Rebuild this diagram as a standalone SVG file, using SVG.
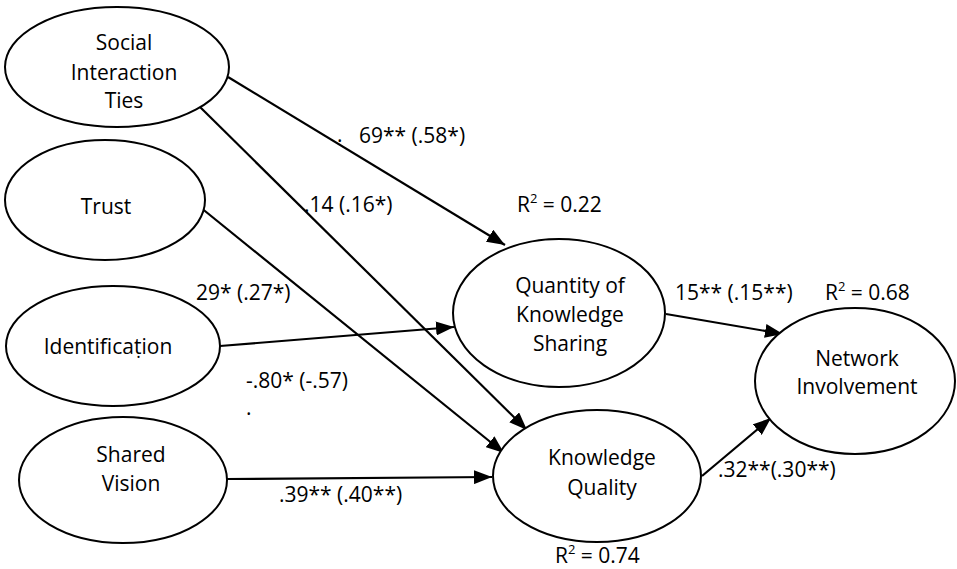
<svg xmlns="http://www.w3.org/2000/svg" width="957" height="569" viewBox="0 0 957 569">
<defs>
<style>
.n{fill:#fff;stroke:#000;stroke-width:2}
.t{font-family:"Open Sans","Noto Sans","Liberation Sans",sans-serif;font-size:21px;fill:#000;text-anchor:middle}
.l{font-family:"Open Sans","Noto Sans","Liberation Sans",sans-serif;font-size:21px;fill:#000}
.c{stroke:#000;stroke-width:2.2;fill:none;marker-end:url(#ah)}
.sup{font-size:13px}
</style>
<marker id="ah" viewBox="0 0 18 14" refX="18" refY="7" markerWidth="18" markerHeight="14" markerUnits="userSpaceOnUse" orient="auto">
<path d="M0,0 L18,7 L0,14 Z" fill="#000"/>
</marker>
</defs>
<rect width="957" height="569" fill="#fff"/>
<g id="connectors">
<line class="c" x1="228" y1="77" x2="505" y2="245"/>
<line class="c" x1="200" y1="107" x2="527" y2="430"/>
<line class="c" x1="200" y1="207" x2="504" y2="453"/>
<line class="c" x1="220" y1="346" x2="454" y2="327"/>
<line class="c" x1="227" y1="479" x2="492" y2="477"/>
<line class="c" x1="666" y1="314" x2="783" y2="334"/>
<line class="c" x1="702" y1="476" x2="771" y2="418"/>
</g>
<g id="node-sit">
<ellipse class="n" cx="117" cy="67" rx="112" ry="60"/>
<text class="t" x="124" y="50">Social</text>
<text class="t" x="124" y="80">Interaction</text>
<text class="t" x="124" y="108">Ties</text>
</g>
<g id="node-trust">
<ellipse class="n" cx="105" cy="200" rx="100" ry="60"/>
<text class="t" x="106" y="214">Trust</text>
</g>
<g id="node-identification">
<ellipse class="n" cx="113" cy="346" rx="107" ry="60"/>
<text class="t" x="108" y="354">Identificaṭion</text>
</g>
<g id="node-shared">
<ellipse class="n" cx="123" cy="480" rx="104" ry="63"/>
<text class="t" x="131" y="462">Shared</text>
<text class="t" x="131" y="491">Vision</text>
</g>
<g id="node-qks">
<ellipse class="n" cx="559" cy="313" rx="106" ry="74"/>
<text class="t" x="570" y="293">Quantity of</text>
<text class="t" x="570" y="322">Knowledge</text>
<text class="t" x="570" y="351">Sharing</text>
</g>
<g id="node-kq">
<ellipse class="n" cx="597" cy="476" rx="104" ry="66"/>
<text class="t" x="602" y="465">Knowledge</text>
<text class="t" x="602" y="495">Quality</text>
</g>
<g id="node-ni">
<ellipse class="n" cx="855" cy="381" rx="100" ry="73"/>
<text class="t" x="857" y="366">Network</text>
<text class="t" x="857" y="394">Involvement</text>
</g>
<g id="labels">
<text class="l" x="337" y="142">.</text>
<text class="l" x="359" y="143">69** (.58*)</text>
<text class="l" x="304" y="212">.14 (.16*)</text>
<text class="l" x="517" y="212">R<tspan class="sup" dy="-9">2</tspan><tspan dy="9"> = 0.22</tspan></text>
<text class="l" x="196" y="300">29* (.27*)</text>
<text class="l" x="246" y="388">-.80* (-.57)</text>
<text class="l" x="246" y="415">.</text>
<text class="l" x="279" y="502">.39** (.40**)</text>
<text class="l" x="675" y="300">15** (.15**)</text>
<text class="l" x="825" y="300">R<tspan class="sup" dy="-9">2</tspan><tspan dy="9"> = 0.68</tspan></text>
<text class="l" x="718" y="477">.32**(.30**)</text>
<text class="l" x="555" y="563">R<tspan class="sup" dy="-9">2</tspan><tspan dy="9"> = 0.74</tspan></text>
</g>
</svg>
